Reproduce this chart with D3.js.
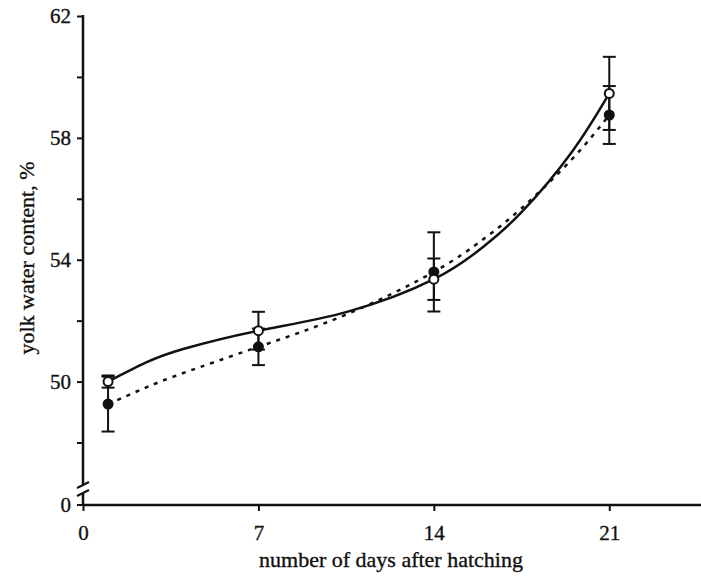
<!DOCTYPE html>
<html>
<head>
<meta charset="utf-8">
<script src="https://cdn.jsdelivr.net/npm/d3@7"></script>
<style>
  body { margin: 0; background: #fff; }
  svg { display: block; font-family: "Liberation Serif", "Times New Roman", serif; }
</style>
</head>
<body>
<div id="chart"></div>
<script>
// days after hatching
const days = [1, 7, 14, 21];
// open circles (solid curve)
const openMean = [50.0, 51.67, 53.36, 59.46];
const openErr = [0.2, 0.62, 0.68, 1.2];
// filled circles (dotted curve)
const filledMean = [49.26, 51.14, 53.6, 58.75];
const filledErr = [0.9, 0.6, 1.3, 0.95];

// fitted curves at these days
const curveDays = [1, 2.5, 4, 7, 10.5, 14, 16, 17.5, 19.5, 21];
const solidCurve = [50.0, 50.62, 51.07, 51.67, 52.28, 53.36, 54.44, 55.56, 57.53, 59.46];
const dottedCurve = [49.26, 49.8, 50.28, 51.14, 52.2, 53.6, 54.69, 55.69, 57.29, 58.75];

const xTicks = [0, 7, 14, 21];
const yTicks = [48, 50, 52, 54, 56, 58, 60, 62];
const yLabels = [50, 54, 58, 62];

const width = 701, height = 585;
const svg = d3.select("#chart").append("svg")
  .attr("width", width)
  .attr("height", height);

const x = d3.scaleLinear().domain([0, 24.66]).range([83, 701]);
const y = d3.scaleLinear().domain([48, 62]).range([442.5, 16]);
const yZero = 505;        // where the broken axis puts 0
const breakTop = 485, breakBottom = 493;

const ink = "#111";

function styleText(sel, size) {
  sel.attr("fill", ink)
    .attr("stroke", ink)
    .attr("stroke-width", 0.35)
    .style("font-size", size + "px")
    .style("font-family", "Liberation Serif, serif");
}

// y axis above the break
const yAxis = svg.append("g")
  .attr("transform", `translate(${x(0)},0)`)
  .call(d3.axisLeft(y)
    .tickValues(yTicks)
    .tickSize(6)
    .tickPadding(6)
    .tickFormat(d => yLabels.includes(d) ? d : ""));
yAxis.select(".domain").remove();
yAxis.selectAll(".tick line").attr("stroke", ink).attr("stroke-width", 2);
yAxis.selectAll(".tick text").call(styleText, 21);

// axis line with break
svg.append("line")
  .attr("x1", x(0)).attr("x2", x(0))
  .attr("y1", y(62) - 1).attr("y2", breakTop)
  .attr("stroke", ink).attr("stroke-width", 2.5);
svg.append("line")
  .attr("x1", x(0)).attr("x2", x(0))
  .attr("y1", breakBottom).attr("y2", yZero)
  .attr("stroke", ink).attr("stroke-width", 2.5);
[breakTop, breakBottom].forEach(b => {
  svg.append("line")
    .attr("x1", x(0) - 6).attr("x2", x(0) + 6)
    .attr("y1", b + 3).attr("y2", b - 3)
    .attr("stroke", ink).attr("stroke-width", 2);
});

// zero tick on y
svg.append("line")
  .attr("x1", x(0) - 6).attr("x2", x(0))
  .attr("y1", yZero).attr("y2", yZero)
  .attr("stroke", ink).attr("stroke-width", 2);
svg.append("text")
  .attr("x", x(0) - 12).attr("y", yZero)
  .attr("dy", "0.32em")
  .attr("text-anchor", "end")
  .text("0")
  .call(styleText, 21);

// x axis
const xAxis = svg.append("g")
  .attr("transform", `translate(0,${yZero})`)
  .call(d3.axisBottom(x)
    .tickValues(xTicks)
    .tickSize(6)
    .tickPadding(14)
    .tickFormat(d3.format("d")));
xAxis.select(".domain")
  .attr("stroke", ink).attr("stroke-width", 2.5)
  .attr("d", `M${x(0)},0H${width}`);
xAxis.selectAll(".tick line").attr("stroke", ink).attr("stroke-width", 2);
xAxis.selectAll(".tick text").call(styleText, 21);

// axis titles
svg.append("text")
  .attr("x", 391).attr("y", 567)
  .attr("text-anchor", "middle")
  .text("number of days after hatching")
  .call(styleText, 22);

svg.append("text")
  .attr("transform", "translate(34,258) rotate(-90)")
  .attr("text-anchor", "middle")
  .text("yolk water content, %")
  .call(styleText, 22);

// curves
const line = d3.line()
  .x(d => x(d[0]))
  .y(d => y(d[1]))
  .curve(d3.curveNatural);

svg.append("path")
  .datum(curveDays.map((d, i) => [d, dottedCurve[i]]))
  .attr("d", line)
  .attr("fill", "none")
  .attr("stroke", ink)
  .attr("stroke-width", 2.5)
  .attr("stroke-dasharray", "4,6");

svg.append("path")
  .datum(curveDays.map((d, i) => [d, solidCurve[i]]))
  .attr("d", line)
  .attr("fill", "none")
  .attr("stroke", ink)
  .attr("stroke-width", 2.5);

// error bars + markers
function drawSeries(means, errs, filled) {
  const g = svg.append("g");
  const rows = days.map((d, i) => ({ day: d, m: means[i], e: errs[i] }));
  const bars = g.selectAll("g.bar").data(rows).join("g").attr("class", "bar");
  bars.append("line")
    .attr("x1", d => x(d.day)).attr("x2", d => x(d.day))
    .attr("y1", d => y(d.m + d.e)).attr("y2", d => y(d.m - d.e))
    .attr("stroke", ink).attr("stroke-width", 2);
  [1, -1].forEach(s => {
    bars.append("line")
      .attr("x1", d => x(d.day) - 6.5).attr("x2", d => x(d.day) + 6.5)
      .attr("y1", d => y(d.m + s * d.e)).attr("y2", d => y(d.m + s * d.e))
      .attr("stroke", ink).attr("stroke-width", 2);
  });
  bars.append("circle")
    .attr("cx", d => x(d.day)).attr("cy", d => y(d.m))
    .attr("r", filled ? 5.5 : 4.5)
    .attr("fill", filled ? ink : "#fff")
    .attr("stroke", ink)
    .attr("stroke-width", filled ? 0 : 2);
}

drawSeries(filledMean, filledErr, true);
drawSeries(openMean, openErr, false);
</script>
</body>
</html>
